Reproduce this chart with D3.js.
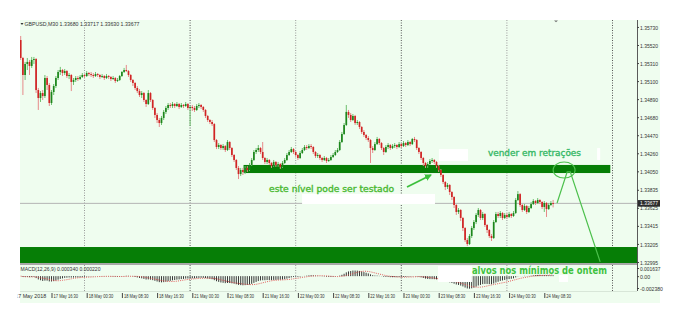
<!DOCTYPE html>
<html><head><meta charset="utf-8">
<script src="https://cdn.jsdelivr.net/npm/d3@7/dist/d3.min.js"></script>
<style>html,body{margin:0;padding:0;background:#fff}svg{display:block}</style>
</head><body>
<svg id="chart" width="682" height="320"></svg>
<script>
// ---------- DATA ----------
const symbolTitle = "GBPUSD,M30 1.33680 1.33717 1.33630 1.33677";
const macdTitle = "MACD(12,26,9) 0.000340 0.000220";

const barOpen = [
1.35578,1.35369,1.35171,1.35299,1.35323,1.35276,1.35346,1.35357,1.34996,1.34903,
1.34961,1.34926,1.35136,1.35055,1.34845,1.34973,1.35043,1.35136,1.35206,1.35229,
1.35194,1.35217,1.35159,1.35171,1.35090,1.35113,1.35136,1.35124,1.35148,1.35171,
1.35159,1.35194,1.35182,1.35171,1.35159,1.35182,1.35171,1.35148,1.35159,1.35136,
1.35159,1.35148,1.35124,1.35136,1.35101,1.35113,1.35159,1.35206,1.35229,1.35217,
1.35171,1.35113,1.35078,1.35020,1.34984,1.34938,1.34961,1.34880,1.34833,1.34961,
1.34880,1.34787,1.34706,1.34647,1.34612,1.34671,1.34741,1.34787,1.34822,1.34810,
1.34833,1.34810,1.34833,1.34799,1.34822,1.34810,1.34833,1.34787,1.34799,1.34787,
1.34764,1.34810,1.34822,1.34799,1.34764,1.34694,1.34647,1.34624,1.34600,1.34414,
1.34333,1.34356,1.34321,1.34344,1.34298,1.34391,1.34321,1.34240,1.34182,1.34089,
1.34018,1.34065,1.34042,1.34089,1.34065,1.34124,1.34182,1.34275,1.34298,1.34321,
1.34275,1.34205,1.34159,1.34182,1.34147,1.34112,1.34159,1.34124,1.34135,1.34101,
1.34147,1.34182,1.34240,1.34275,1.34309,1.34275,1.34240,1.34205,1.34263,1.34298,
1.34333,1.34321,1.34344,1.34333,1.34275,1.34228,1.34240,1.34205,1.34182,1.34205,
1.34170,1.34182,1.34217,1.34240,1.34275,1.34298,1.34391,1.34484,1.34589,1.34741,
1.34706,1.34647,1.34694,1.34612,1.34624,1.34566,1.34508,1.34473,1.34438,1.34414,
1.34321,1.34298,1.34367,1.34426,1.34379,1.34321,1.34275,1.34333,1.34356,1.34321,
1.34344,1.34356,1.34333,1.34367,1.34344,1.34379,1.34356,1.34391,1.34367,1.34426,
1.34414,1.34321,1.34275,1.34205,1.34147,1.34112,1.34135,1.34170,1.34182,1.34159,
1.34112,1.34065,1.34007,1.33926,1.33868,1.33891,1.33809,1.33751,1.33658,1.33577,
1.33600,1.33507,1.33390,1.33250,1.33204,1.33297,1.33390,1.33460,1.33542,1.33600,
1.33507,1.33553,1.33425,1.33367,1.33297,1.33274,1.33460,1.33553,1.33530,1.33565,
1.33507,1.33542,1.33519,1.33553,1.33530,1.33565,1.33716,1.33785,1.33658,1.33600,
1.33646,1.33577,1.33623,1.33669,1.33704,1.33681,1.33716,1.33693,1.33635,1.33681,
1.33611,1.33658,1.33680];

const barHigh = [
1.35625,1.35381,1.35323,1.35369,1.35346,1.35381,1.35381,1.35369,1.35020,1.34984,
1.34996,1.35171,1.35159,1.35078,1.34996,1.35066,1.35159,1.35229,1.35265,1.35241,
1.35241,1.35229,1.35194,1.35182,1.35136,1.35159,1.35159,1.35171,1.35194,1.35182,
1.35217,1.35206,1.35206,1.35194,1.35206,1.35194,1.35182,1.35182,1.35171,1.35182,
1.35171,1.35159,1.35159,1.35148,1.35136,1.35171,1.35217,1.35253,1.35288,1.35229,
1.35182,1.35124,1.35090,1.35043,1.35008,1.34984,1.34973,1.34891,1.34996,1.34973,
1.34891,1.34799,1.34729,1.34671,1.34694,1.34764,1.34810,1.34845,1.34845,1.34857,
1.34845,1.34857,1.34845,1.34845,1.34833,1.34857,1.34845,1.34810,1.34822,1.34810,
1.34833,1.34845,1.34833,1.34810,1.34775,1.34706,1.34659,1.34647,1.34612,1.34426,
1.34379,1.34367,1.34367,1.34356,1.34414,1.34402,1.34333,1.34251,1.34193,1.34112,
1.34089,1.34089,1.34112,1.34112,1.34147,1.34205,1.34298,1.34321,1.34356,1.34333,
1.34391,1.34217,1.34205,1.34193,1.34159,1.34182,1.34170,1.34159,1.34147,1.34170,
1.34205,1.34263,1.34298,1.34333,1.34321,1.34286,1.34251,1.34286,1.34321,1.34356,
1.34356,1.34367,1.34367,1.34344,1.34286,1.34263,1.34251,1.34217,1.34228,1.34217,
1.34205,1.34240,1.34263,1.34298,1.34321,1.34414,1.34508,1.34612,1.34822,1.34764,
1.34729,1.34717,1.34706,1.34647,1.34635,1.34577,1.34531,1.34484,1.34461,1.34426,
1.34344,1.34391,1.34450,1.34438,1.34391,1.34333,1.34356,1.34379,1.34367,1.34367,
1.34379,1.34367,1.34391,1.34379,1.34402,1.34391,1.34414,1.34402,1.34438,1.34450,
1.34426,1.34333,1.34286,1.34217,1.34159,1.34159,1.34193,1.34205,1.34193,1.34170,
1.34124,1.34077,1.34018,1.33937,1.33914,1.33902,1.33820,1.33762,1.33669,1.33623,
1.33611,1.33519,1.33402,1.33274,1.33320,1.33413,1.33483,1.33565,1.33623,1.33611,
1.33577,1.33565,1.33436,1.33378,1.33320,1.33483,1.33577,1.33577,1.33588,1.33577,
1.33565,1.33565,1.33577,1.33565,1.33588,1.33739,1.33820,1.33797,1.33669,1.33669,
1.33658,1.33646,1.33693,1.33727,1.33716,1.33739,1.33727,1.33704,1.33704,1.33693,
1.33681,1.33704,1.33717];

const barLow = [
1.35346,1.34938,1.35113,1.35229,1.35171,1.35253,1.35299,1.34961,1.34764,1.34857,
1.34880,1.34903,1.34996,1.34810,1.34822,1.34938,1.35020,1.35113,1.35171,1.35159,
1.35171,1.35136,1.35124,1.34984,1.35055,1.35090,1.35101,1.35113,1.35136,1.35136,
1.35148,1.35159,1.35148,1.35136,1.35148,1.35148,1.35124,1.35136,1.35113,1.35124,
1.35124,1.35101,1.35113,1.35078,1.35090,1.35101,1.35148,1.35194,1.35206,1.35148,
1.35090,1.35043,1.34996,1.34961,1.34915,1.34903,1.34857,1.34799,1.34822,1.34857,
1.34764,1.34671,1.34612,1.34566,1.34589,1.34647,1.34717,1.34764,1.34787,1.34787,
1.34787,1.34799,1.34775,1.34787,1.34787,1.34799,1.34764,1.34577,1.34752,1.34741,
1.34752,1.34787,1.34775,1.34741,1.34671,1.34624,1.34600,1.34577,1.34391,1.34309,
1.34309,1.34298,1.34298,1.34275,1.34286,1.34298,1.34217,1.34159,1.34065,1.33960,
1.33995,1.34007,1.34018,1.34042,1.34053,1.34112,1.34170,1.34251,1.34275,1.34251,
1.34182,1.34135,1.34135,1.34124,1.34089,1.34101,1.34101,1.34101,1.34077,1.34089,
1.34135,1.34170,1.34228,1.34263,1.34251,1.34217,1.34182,1.34193,1.34251,1.34286,
1.34298,1.34309,1.34309,1.34251,1.34205,1.34205,1.34182,1.34159,1.34170,1.34147,
1.34159,1.34170,1.34205,1.34228,1.34263,1.34286,1.34379,1.34473,1.34577,1.34671,
1.34624,1.34635,1.34589,1.34589,1.34542,1.34484,1.34450,1.34414,1.34391,1.34147,
1.34263,1.34286,1.34356,1.34356,1.34298,1.34240,1.34263,1.34309,1.34298,1.34309,
1.34321,1.34309,1.34321,1.34321,1.34333,1.34333,1.34344,1.34344,1.34356,1.34391,
1.34298,1.34251,1.34182,1.34112,1.34089,1.34089,1.34124,1.34147,1.34135,1.34089,
1.34042,1.33984,1.33902,1.33832,1.33844,1.33774,1.33716,1.33623,1.33542,1.33553,
1.33471,1.33355,1.33227,1.33180,1.33192,1.33274,1.33367,1.33436,1.33519,1.33483,
1.33483,1.33402,1.33332,1.33274,1.33239,1.33262,1.33448,1.33507,1.33507,1.33483,
1.33495,1.33495,1.33507,1.33507,1.33519,1.33553,1.33704,1.33635,1.33577,1.33588,
1.33553,1.33565,1.33611,1.33658,1.33658,1.33669,1.33669,1.33611,1.33577,1.33519,
1.33600,1.33646,1.33630];

const barClose = [
1.35369,1.35171,1.35299,1.35323,1.35276,1.35346,1.35357,1.34996,1.34903,1.34961,
1.34926,1.35136,1.35055,1.34845,1.34973,1.35043,1.35136,1.35206,1.35229,1.35194,
1.35217,1.35159,1.35171,1.35090,1.35113,1.35136,1.35124,1.35148,1.35171,1.35159,
1.35194,1.35182,1.35171,1.35159,1.35182,1.35171,1.35148,1.35159,1.35136,1.35159,
1.35148,1.35124,1.35136,1.35101,1.35113,1.35159,1.35206,1.35229,1.35217,1.35171,
1.35113,1.35078,1.35020,1.34984,1.34938,1.34961,1.34880,1.34833,1.34961,1.34880,
1.34787,1.34706,1.34647,1.34612,1.34671,1.34741,1.34787,1.34822,1.34810,1.34833,
1.34810,1.34833,1.34799,1.34822,1.34810,1.34833,1.34787,1.34799,1.34787,1.34764,
1.34810,1.34822,1.34799,1.34764,1.34694,1.34647,1.34624,1.34600,1.34414,1.34333,
1.34356,1.34321,1.34344,1.34298,1.34391,1.34321,1.34240,1.34182,1.34089,1.34018,
1.34065,1.34042,1.34089,1.34065,1.34124,1.34182,1.34275,1.34298,1.34321,1.34275,
1.34205,1.34159,1.34182,1.34147,1.34112,1.34159,1.34124,1.34135,1.34101,1.34147,
1.34182,1.34240,1.34275,1.34309,1.34275,1.34240,1.34205,1.34263,1.34298,1.34333,
1.34321,1.34344,1.34333,1.34275,1.34228,1.34240,1.34205,1.34182,1.34205,1.34170,
1.34182,1.34217,1.34240,1.34275,1.34298,1.34391,1.34484,1.34589,1.34741,1.34706,
1.34647,1.34694,1.34612,1.34624,1.34566,1.34508,1.34473,1.34438,1.34414,1.34321,
1.34298,1.34367,1.34426,1.34379,1.34321,1.34275,1.34333,1.34356,1.34321,1.34344,
1.34356,1.34333,1.34367,1.34344,1.34379,1.34356,1.34391,1.34367,1.34426,1.34414,
1.34321,1.34275,1.34205,1.34147,1.34112,1.34135,1.34170,1.34182,1.34159,1.34112,
1.34065,1.34007,1.33926,1.33868,1.33891,1.33809,1.33751,1.33658,1.33577,1.33600,
1.33507,1.33390,1.33250,1.33204,1.33297,1.33390,1.33460,1.33542,1.33600,1.33507,
1.33553,1.33425,1.33367,1.33297,1.33274,1.33460,1.33553,1.33530,1.33565,1.33507,
1.33542,1.33519,1.33553,1.33530,1.33565,1.33716,1.33785,1.33658,1.33600,1.33646,
1.33577,1.33623,1.33669,1.33704,1.33681,1.33716,1.33693,1.33635,1.33681,1.33611,
1.33658,1.33681,1.33677];

const priceTicks = [1.35730,1.35520,1.35310,1.35100,1.34890,1.34680,1.34470,1.34260,1.34050,1.33835,1.33625,1.33415,1.33205,1.32995];
const lastPrice = 1.33677;
const timeTickBars = [0,14,30,46,62,78,94,110,126,142,158,174,190,206,222,238];
const timeTickLabels = ["17 May 2018","17 May 16:30","18 May 00:30","18 May 08:30","18 May 16:30","21 May 00:30","21 May 08:30","21 May 16:30","22 May 00:30","22 May 08:30","22 May 16:30","23 May 00:30","23 May 08:30","23 May 16:30","24 May 00:30","24 May 08:30"];
const daySeparatorBars = [29,77,125,173,221,269];
const macdTickValues = [0.001637, 0, -0.00238];
const macdTickLabels = ["0.001637","0.00","-0.002380"];

// zones: [fromBar, toBar, upperPrice, lowerPrice]
const zoneBands = [[101.3, 268.0, 1.34124, 1.34030], [-1, 281, 1.33169, 1.32983]];
// annotations (bar index, price)
const arrowFrom = [175.6, 1.33868], arrowTo = [186.5, 1.34007];
const retracePath = [[243.8,1.33681],[248.4,1.34044],[249.8,1.34044],[263.4,1.32996]];
const ringCenter = [247.0, 1.34065];
const notes = [
  {text:"este nível pode ser testado", bar:112.9, price:1.33809, size:9, len:125, color:"#48b830", weight:"normal"},
  {text:"vender em retrações", bar:212.4, price:1.34228, size:9, len:93, color:"#35b865", weight:"normal"},
  {text:"alvos nos mínimos de ontem", bar:205.1, price:1.32855, size:10, len:135, color:"#3ec23e", weight:"bold"}
];
// white erasures left in the picture: [fromBar, toBar, upperPrice, lowerPrice]
const whiteBoxes = [[127.9,188.3,1.33786,1.33669],[190.1,203.3,1.34309,1.34170],[262.0,263.4,1.34321,1.34182],[189.7,205.1,1.32948,1.32762],[244.7,248.8,1.32843,1.32762]];

// ---------- LAYOUT ----------
const L = {left:20, right:637, top:20, mainBottom:263, paneTop:268, paneBottom:288, paneEnd:291, bgRight:660, bgBottom:303};
const FONT = "'Liberation Sans', Arial, sans-serif";
const svg = d3.select('#chart');
const xScale = d3.scaleLinear().domain([0, 269]).range([20.7, 612.5]);
const yScale = d3.scaleLinear().domain([1.32983, 1.35811]).range([L.mainBottom, L.top]);
const mScale = d3.scaleLinear().domain([macdTickValues[2], macdTickValues[0]]).range([L.paneBottom, L.paneTop]);

const defs = svg.append('defs');
defs.append('clipPath').attr('id','mainClip').append('rect').attr('x',L.left).attr('y',L.top).attr('width',L.right-L.left).attr('height',L.mainBottom-L.top);
defs.append('clipPath').attr('id','paneClip').append('rect').attr('x',L.left).attr('y',265).attr('width',L.right-L.left).attr('height',L.paneEnd-265);
defs.append('clipPath').attr('id','timeClip').append('rect').attr('x',17.6).attr('y',L.paneEnd).attr('width',L.right-17.6).attr('height',12);
defs.append('marker').attr('id','arrowHead').attr('markerUnits','userSpaceOnUse').attr('markerWidth',8).attr('markerHeight',8)
  .attr('refX',6).attr('refY',4).attr('orient','auto')
  .append('path').attr('d','M0,0.5 L7,4 L0,7.5 Z').attr('fill','#3cbf3c');

// background
svg.append('rect').attr('x',L.left).attr('y',L.top).attr('width',L.bgRight-L.left).attr('height',L.bgBottom-L.top).attr('fill','#effdef');

// day separators
svg.append('g').selectAll('line').data(daySeparatorBars).join('line')
  .attr('x1',d=>xScale(d)).attr('x2',d=>xScale(d)).attr('y1',L.top).attr('y2',L.paneEnd)
  .attr('stroke',(d,i)=> i%2 ? '#555' : '#999').attr('stroke-width',1).attr('stroke-dasharray','1,1.5');

const main = svg.append('g').attr('clip-path','url(#mainClip)');
// last price line
main.append('line').attr('x1',L.left).attr('x2',L.right).attr('y1',yScale(lastPrice)).attr('y2',yScale(lastPrice)).attr('stroke','#b4b4b4').attr('stroke-width',1);
// zones
main.append('g').selectAll('rect').data(zoneBands).join('rect')
  .attr('x',d=>xScale(d[0])).attr('width',d=>xScale(d[1])-xScale(d[0]))
  .attr('y',d=>yScale(d[2])).attr('height',d=>yScale(d[3])-yScale(d[2])).attr('fill','#067e06');

// candles
const bars = d3.range(barClose.length).map(i=>({i,o:barOpen[i],h:barHigh[i],l:barLow[i],c:barClose[i]}));
const cg = main.append('g');
cg.selectAll('line').data(bars).join('line')
  .attr('x1',d=>xScale(d.i)).attr('x2',d=>xScale(d.i))
  .attr('y1',d=>yScale(d.h)).attr('y2',d=>yScale(d.l))
  .attr('stroke',d=>d.c>=d.o ? '#6fbf6f' : '#e68a8a').attr('stroke-width',1);
cg.selectAll('rect').data(bars).join('rect')
  .attr('x',d=>xScale(d.i)-0.85).attr('width',1.7)
  .attr('y',d=>yScale(Math.max(d.o,d.c)))
  .attr('height',d=>Math.max(0.9, Math.abs(yScale(d.o)-yScale(d.c))))
  .attr('fill',d=>d.c>=d.o ? '#1c861c' : '#d02424');

// pane separator
svg.append('rect').attr('x',L.left).attr('y',263).attr('width',L.right-L.left).attr('height',2).attr('fill','#a8a8a8');

// MACD pane
function ema(vals,n){const k=2/(n+1);const out=[];vals.forEach((v,i)=>out.push(i?v*k+out[i-1]*(1-k):v));return out;}
const e12 = ema(barClose,12), e26 = ema(barClose,26);
const macdMain = barClose.map((_,i)=>e12[i]-e26[i]);
const macdSignal = macdMain.map((_,i)=>d3.mean(macdMain.slice(Math.max(0,i-8),i+1)));
const pane = svg.append('g').attr('clip-path','url(#paneClip)');
pane.selectAll('line.h').data(macdMain).join('line').attr('class','h')
  .attr('x1',(d,i)=>xScale(i)).attr('x2',(d,i)=>xScale(i))
  .attr('y1',mScale(0)).attr('y2',d=>mScale(d)).attr('stroke','#3a3a3a').attr('stroke-width',1);
pane.append('path').attr('d',d3.line().x((d,i)=>xScale(i)).y(d=>mScale(d))(macdSignal))
  .attr('fill','none').attr('stroke','#e04848').attr('stroke-width',0.9).attr('stroke-dasharray','1,1.2');

// chart border (right)
svg.append('line').attr('x1',L.right+0.5).attr('x2',L.right+0.5).attr('y1',L.top).attr('y2',L.paneEnd).attr('stroke','#5a5a5a');
svg.append('line').attr('x1',L.left).attr('x2',L.right).attr('y1',L.paneEnd+0.5).attr('y2',L.paneEnd+0.5).attr('stroke','#d8e6d8');

// white erasures
svg.append('g').selectAll('rect').data(whiteBoxes).join('rect')
  .attr('x',d=>xScale(d[0])).attr('width',d=>xScale(d[1])-xScale(d[0]))
  .attr('y',d=>yScale(d[2])).attr('height',d=>yScale(d[3])-yScale(d[2])).attr('fill','#ffffff');

// annotations
const ann = svg.append('g');
ann.append('path').attr('d',d3.line()(retracePath.map(([b,p])=>[xScale(b),yScale(p)])))
  .attr('fill','none').attr('stroke','#4cc04c').attr('stroke-width',1.2);
ann.append('ellipse').attr('cx',xScale(ringCenter[0])).attr('cy',yScale(ringCenter[1])).attr('rx',11).attr('ry',8)
  .attr('fill','none').attr('stroke','#4cc04c').attr('stroke-width',1.1);
ann.append('line').attr('x1',xScale(arrowFrom[0])).attr('y1',yScale(arrowFrom[1]))
  .attr('x2',xScale(arrowTo[0])).attr('y2',yScale(arrowTo[1]))
  .attr('stroke','#3cbf3c').attr('stroke-width',1.8).attr('marker-end','url(#arrowHead)');
ann.selectAll('text').data(notes).join('text')
  .attr('x',d=>xScale(d.bar)).attr('y',d=>yScale(d.price))
  .attr('font-family',"'DejaVu Sans', Verdana, sans-serif").attr('font-size',d=>d.size).attr('font-weight',d=>d.weight)
  .attr('fill',d=>d.color).attr('stroke',d=>d.weight==='bold'?'none':d.color).attr('stroke-width',0.35)
  .attr('textLength',d=>d.len).attr('lengthAdjust','spacingAndGlyphs').text(d=>d.text);

// price axis
const pAxis = d3.axisRight(yScale).tickValues(priceTicks).tickFormat(d3.format('.5f')).tickSize(2).tickSizeOuter(0);
const pg = svg.append('g').attr('transform',`translate(${L.right},0)`).call(pAxis);
pg.attr('font-family',FONT).attr('font-size',6);
pg.select('.domain').remove();
pg.selectAll('line').attr('stroke','#444');
pg.selectAll('text').attr('x',3).attr('dy','0.35em').attr('fill','#333').attr('textLength',18).attr('lengthAdjust','spacingAndGlyphs');
// current price tag
const tag = svg.append('g').attr('transform',`translate(${L.right+1},${yScale(lastPrice)})`);
tag.append('rect').attr('x',0).attr('y',-3.3).attr('width',22).attr('height',6.6).attr('fill','#2c2c2c');
tag.append('text').attr('x',2).attr('y',2).attr('font-family',FONT).attr('font-size',6).attr('fill','#fff')
  .attr('textLength',18).attr('lengthAdjust','spacingAndGlyphs').text(d3.format('.5f')(lastPrice));

// MACD axis
const mAxis = d3.axisRight(mScale).tickValues(macdTickValues).tickFormat((d,i)=>macdTickLabels[i]).tickSize(2).tickSizeOuter(0);
const mg = svg.append('g').attr('transform',`translate(${L.right},0)`).call(mAxis);
mg.attr('font-family',FONT).attr('font-size',6);
mg.select('.domain').remove();
mg.selectAll('line').attr('stroke','#444');
mg.selectAll('text').attr('x',3).attr('dy','0.35em').attr('fill','#333')
  .attr('textLength',(d,i)=>macdTickLabels[i].length*2.55).attr('lengthAdjust','spacingAndGlyphs');

// time axis
const tAxis = d3.axisBottom(xScale).tickValues(timeTickBars).tickFormat((d,i)=>timeTickLabels[i]).tickSize(5).tickSizeOuter(0);
const tg = svg.append('g').attr('clip-path','url(#timeClip)').append('g').attr('transform',`translate(0,${L.paneEnd+2})`).call(tAxis);
tg.attr('font-family',FONT).attr('font-size',6);
tg.select('.domain').remove();
tg.selectAll('.tick line').attr('stroke','#444').attr('opacity',(d,i)=>i===0?0:1);
tg.selectAll('.tick text').attr('y',0).attr('dy',4.8).attr('x',(d,i)=>i===0?-6:1.5).attr('text-anchor','start').attr('fill','#333')
  .attr('textLength',(d,i)=>i===0?31:timeTickLabels[i].length*2.05).attr('lengthAdjust','spacingAndGlyphs');

// titles
svg.append('path').attr('d','M20.5,23 L23.5,23 L22,25 Z').attr('fill','#333');
svg.append('text').attr('x',24.5).attr('y',26.3).attr('font-family',FONT).attr('font-size',6).attr('fill','#333')
  .attr('textLength',115).attr('lengthAdjust','spacingAndGlyphs').text(symbolTitle);
svg.append('text').attr('x',20.5).attr('y',271).attr('font-family',FONT).attr('font-size',5.6).attr('fill','#333')
  .attr('textLength',80).attr('lengthAdjust','spacingAndGlyphs').text(macdTitle);
// chart shift marker
svg.append('path').attr('d','M554,20.5 L558,20.5 L556,22.3 Z').attr('fill','#777');
</script>
</body></html>
